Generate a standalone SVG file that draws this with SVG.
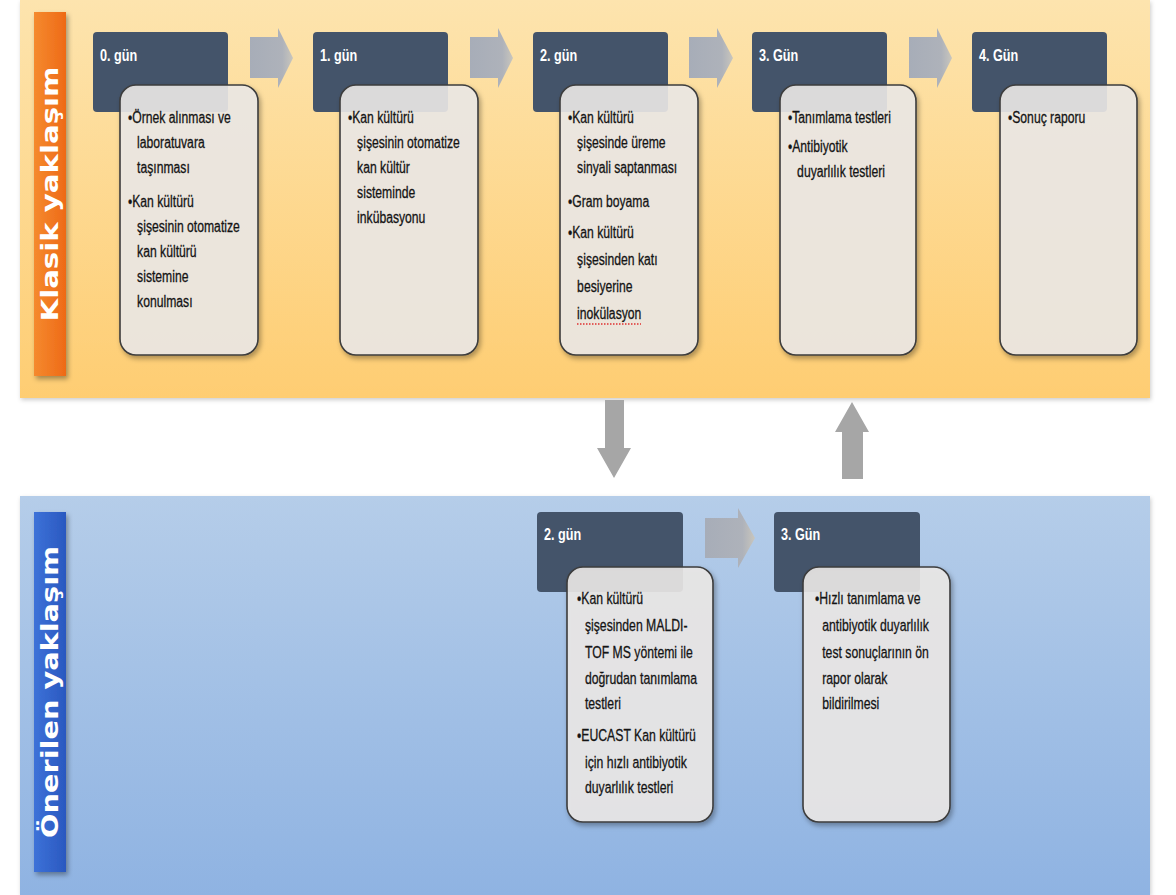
<svg xmlns="http://www.w3.org/2000/svg" width="1176" height="895" viewBox="0 0 1176 895">
<defs>
<linearGradient id="gOr" x1="0" y1="0" x2="0" y2="1"><stop offset="0" stop-color="#fde4ae"/><stop offset="1" stop-color="#fecd72"/></linearGradient>
<linearGradient id="gBl" x1="0" y1="0" x2="0" y2="1"><stop offset="0" stop-color="#b5cde9"/><stop offset="1" stop-color="#8fb3e2"/></linearGradient>
<linearGradient id="gOrBar" x1="0" y1="0" x2="1" y2="0"><stop offset="0" stop-color="#f58a2e"/><stop offset="1" stop-color="#ee6a17"/></linearGradient>
<linearGradient id="gBlBar" x1="0" y1="0" x2="1" y2="0"><stop offset="0" stop-color="#3d72d8"/><stop offset="1" stop-color="#2a58c0"/></linearGradient>
<linearGradient id="gArr" x1="0" y1="0" x2="1" y2="0"><stop offset="0" stop-color="#a7adb8"/><stop offset="0.75" stop-color="#aeb2ba"/><stop offset="1" stop-color="#c9c6bd"/></linearGradient>
<filter id="sh" x="-20%" y="-20%" width="140%" height="140%"><feDropShadow dx="2" dy="3" stdDeviation="2.5" flood-color="#000" flood-opacity="0.35"/></filter>
<filter id="shp" x="-5%" y="-5%" width="110%" height="110%"><feDropShadow dx="1" dy="2" stdDeviation="2" flood-color="#000" flood-opacity="0.2"/></filter>
</defs>
<style>
.hdr{fill:#44546a;}
.box{fill:#eeeae8;fill-opacity:0.88;stroke:#3c3c3c;stroke-width:1.6;}
.ht{font-family:"Liberation Sans",Arial,sans-serif;font-weight:bold;font-size:16px;fill:#ffffff;}
.t{font-family:"Liberation Sans",Arial,sans-serif;font-size:16px;fill:#141414;stroke:#141414;stroke-width:0.3;}
.t2{font-family:"Liberation Sans",Arial,sans-serif;font-size:17px;fill:#141414;stroke:#141414;stroke-width:0.3;}
.side{font-family:"DejaVu Sans",sans-serif;font-weight:bold;font-size:23px;fill:#ffffff;}
.arr{fill:url(#gArr);}
.varr{fill:#a6a6a6;}
</style>
<rect width="1176" height="895" fill="#ffffff"/>
<g id="panel-klasik">
<rect x="20" y="0" width="1130" height="398" fill="url(#gOr)" filter="url(#shp)"/>
<rect x="34" y="12" width="32" height="364" fill="url(#gOrBar)" filter="url(#sh)"/>
<text class="side" transform="translate(58,194) rotate(-90)" text-anchor="middle" textLength="255" lengthAdjust="spacingAndGlyphs">Klasik yaklaşım</text>
</g>
<g id="panel-onerilen">
<rect x="20" y="496" width="1130" height="399" fill="url(#gBl)" filter="url(#shp)"/>
<rect x="34" y="512" width="32" height="360" fill="url(#gBlBar)" filter="url(#sh)"/>
<text class="side" transform="translate(58,692) rotate(-90)" text-anchor="middle" textLength="292" lengthAdjust="spacingAndGlyphs">Önerilen yaklaşım</text>
</g>
<g id="connectors">
<path class="arr" d="M250,37 H278 V28 L293,58 L278,88 V78 H250 Z"/>
<path class="arr" d="M470,37 H498 V28 L513,58 L498,88 V78 H470 Z"/>
<path class="arr" d="M689,37 H717 V28 L733,58 L717,88 V78 H689 Z"/>
<path class="arr" d="M909,37 H937 V28 L952,58 L937,88 V78 H909 Z"/>
<path class="arr" d="M705,518 H738 V508 L755,538 L738,568 V558 H705 Z"/>
<path class="varr" d="M605,400 H624 V448 H631 L614,478 L597,448 H605 Z"/>
<path class="varr" d="M842,479 H863 V432 H869 L852,402 L835,432 H842 Z"/>
</g>
<g id="k-gun0">
<rect class="hdr" x="93" y="32" width="135" height="80" rx="4"/>
<g transform="translate(100,0) scale(0.79,1)"><text class="ht" x="0" y="61">0. gün</text></g>
<rect class="box" x="120" y="85" width="138" height="270" rx="16" filter="url(#sh)"/>
<g transform="translate(128,0) scale(0.76,1)">
<text class="t" x="0" y="123">•Örnek alınması ve</text>
<text class="t" x="12" y="148">laboratuvara</text>
<text class="t" x="12" y="173">taşınması</text>
<text class="t" x="0" y="207">•Kan kültürü</text>
<text class="t" x="12" y="232">şişesinin otomatize</text>
<text class="t" x="12" y="257">kan kültürü</text>
<text class="t" x="12" y="282">sistemine</text>
<text class="t" x="12" y="307">konulması</text>
</g>
</g>
<g id="k-gun1">
<rect class="hdr" x="313" y="32" width="135" height="80" rx="4"/>
<g transform="translate(320,0) scale(0.79,1)"><text class="ht" x="0" y="61">1. gün</text></g>
<rect class="box" x="340" y="85" width="138" height="270" rx="16" filter="url(#sh)"/>
<g transform="translate(348,0) scale(0.76,1)">
<text class="t" x="0" y="123">•Kan kültürü</text>
<text class="t" x="12" y="148">şişesinin otomatize</text>
<text class="t" x="12" y="173">kan kültür</text>
<text class="t" x="12" y="198">sisteminde</text>
<text class="t" x="12" y="223">inkübasyonu</text>
</g>
</g>
<g id="k-gun2">
<rect class="hdr" x="533" y="32" width="135" height="80" rx="4"/>
<g transform="translate(540,0) scale(0.79,1)"><text class="ht" x="0" y="61">2. gün</text></g>
<rect class="box" x="560" y="85" width="138" height="270" rx="16" filter="url(#sh)"/>
<g transform="translate(568,0) scale(0.76,1)">
<text class="t" x="0" y="123">•Kan kültürü</text>
<text class="t" x="12" y="148">şişesinde üreme</text>
<text class="t" x="12" y="173">sinyali saptanması</text>
<text class="t" x="0" y="207">•Gram boyama</text>
<text class="t" x="0" y="238">•Kan kültürü</text>
<text class="t" x="12" y="265">şişesinden katı</text>
<text class="t" x="12" y="292">besiyerine</text>
<text class="t" x="12" y="319">inokülasyon</text>
</g>
<line x1="577" y1="324" x2="641" y2="324" stroke="#e03030" stroke-width="1.4" stroke-dasharray="1.5,1.5"/>
</g>
<g id="k-gun3">
<rect class="hdr" x="752" y="32" width="135" height="80" rx="4"/>
<g transform="translate(759,0) scale(0.79,1)"><text class="ht" x="0" y="61">3. Gün</text></g>
<rect class="box" x="780" y="85" width="136" height="270" rx="16" filter="url(#sh)"/>
<g transform="translate(788,0) scale(0.76,1)">
<text class="t" x="0" y="123">•Tanımlama testleri</text>
<text class="t" x="0" y="152">•Antibiyotik</text>
<text class="t" x="12" y="177">duyarlılık testleri</text>
</g>
</g>
<g id="k-gun4">
<rect class="hdr" x="972" y="32" width="135" height="80" rx="4"/>
<g transform="translate(979,0) scale(0.79,1)"><text class="ht" x="0" y="61">4. Gün</text></g>
<rect class="box" x="1000" y="85" width="137" height="270" rx="16" filter="url(#sh)"/>
<g transform="translate(1008,0) scale(0.76,1)">
<text class="t" x="0" y="123">•Sonuç raporu</text>
</g>
</g>
<g id="o-gun2">
<rect class="hdr" x="537" y="512" width="146" height="80" rx="4"/>
<g transform="translate(544,0) scale(0.79,1)"><text class="ht" x="0" y="540">2. gün</text></g>
<rect class="box" x="567" y="567" width="146" height="255" rx="16" filter="url(#sh)"/>
<g transform="translate(577,0) scale(0.72,1)">
<text class="t2" x="0" y="604">•Kan kültürü</text>
<text class="t2" x="11" y="631">şişesinden MALDI-</text>
<text class="t2" x="11" y="658">TOF MS yöntemi ile</text>
<text class="t2" x="11" y="684">doğrudan tanımlama</text>
<text class="t2" x="11" y="709">testleri</text>
<text class="t2" x="0" y="741">•EUCAST Kan kültürü</text>
<text class="t2" x="11" y="768">için hızlı antibiyotik</text>
<text class="t2" x="11" y="793">duyarlılık testleri</text>
</g>
</g>
<g id="o-gun3">
<rect class="hdr" x="774" y="512" width="146" height="80" rx="4"/>
<g transform="translate(781,0) scale(0.79,1)"><text class="ht" x="0" y="540">3. Gün</text></g>
<rect class="box" x="803" y="567" width="147" height="255" rx="16" filter="url(#sh)"/>
<g transform="translate(815,0) scale(0.72,1)">
<text class="t2" x="0" y="604">•Hızlı tanımlama ve</text>
<text class="t2" x="10" y="631">antibiyotik duyarlılık</text>
<text class="t2" x="10" y="658">test sonuçlarının ön</text>
<text class="t2" x="10" y="684">rapor olarak</text>
<text class="t2" x="10" y="709">bildirilmesi</text>
</g>
</g>
</svg>
